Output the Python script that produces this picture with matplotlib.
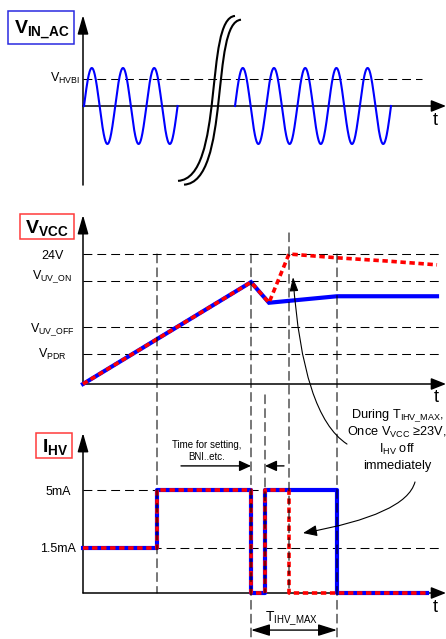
import numpy as np
import matplotlib
matplotlib.use('Agg')
import matplotlib.pyplot as plt
import matplotlib.transforms as mtransforms
from matplotlib.patches import Rectangle, ConnectionPatch, PathPatch, ArrowStyle
from matplotlib.path import Path

plt.rcParams['font.family'] = ['Liberation Sans', 'DejaVu Sans']
plt.rcParams['mathtext.fontset'] = 'custom'
plt.rcParams['mathtext.rm'] = 'Liberation Sans'
plt.rcParams['mathtext.it'] = 'Liberation Sans:italic'
plt.rcParams['mathtext.bf'] = 'Liberation Sans:bold'

# ---- data (time in arbitrary units, t = 0 on the vertical axis) ----
ac_period = 31.2
ac_amplitude = 1.0
ac_segments = [(1, 3), (152, 5)]          # (start time, cycles)
v_hvbi = 0.72

vcc_levels = [24, 19, 10.5, 5.5]
vcc_labels = ['24V', r'V$_{\mathrm{UV\_ON}}$', r'V$_{\mathrm{UV\_OFF}}$', r'V$_{\mathrm{PDR}}$']
vcc_t_blue = [0, 168, 186, 254, 354]
vcc_blue = [0, 18.8, 15.0, 16.2, 16.2]
vcc_t_red = [0, 168, 186, 206, 254, 304, 354]
vcc_red = [0, 18.8, 15.0, 24.0, 23.3, 22.7, 22.0]

ihv_levels = [5, 1.5]
ihv_labels = ['5mA', '1.5mA']
ihv_t_blue = [0, 74, 74, 168, 168, 182, 182, 254, 254, 344]
ihv_blue = [1.5, 1.5, 5, 5, 0, 0, 5, 5, 0, 0]
ihv_t_red = [0, 74, 74, 168, 168, 182, 182, 206, 206, 344]
ihv_red = [1.5, 1.5, 5, 5, 0, 0, 5, 5, 0, 0]

# event markers: time, top (in V), runs to bottom edge?
marker_t = [74, 168, 182, 206, 254]
marker_top = [24, 24, -2.0, 27.9, 24]
marker_to_edge = [False, True, False, False, True]


def ihv_pos(i):
    # current axis is not to scale
    return np.interp(i, [0, 1.5, 5], [0, 2.18, 5])


BLUE = '#0000ff'
RED = '#ff0000'
GRID = dict(color='k', lw=0.75, linestyle=(0, (8.5, 4.8)), zorder=1)
RED_DASH = dict(color=RED, lw=2.6, linestyle=(0, (1.5, 1.0)), zorder=4)

W, H = 446, 639
fig = plt.figure(figsize=(W / 100, H / 100), dpi=100)
px = mtransforms.Affine2D().scale(1 / W, -1 / H).translate(0, 1) + fig.transFigure


def band(top, bottom):
    return [0, 1 - bottom / H, 1, (bottom - top) / H]


T_MIN, T_MAX = -83, 363
ax1 = fig.add_axes(band(0, 200))
ax2 = fig.add_axes(band(200, 400))
ax3 = fig.add_axes(band(400, 639))
for ax in (ax1, ax2, ax3):
    ax.set_xlim(T_MIN, T_MAX)
    ax.axis('off')
s1 = 38
ax1.set_ylim((106 - 200) / s1, 106 / s1)
s2 = 130 / 24
ax2.set_ylim((384 - 400) / s2, (384 - 200) / s2)
s3 = 103 / 5
ax3.set_ylim((593 - 639) / s3, (593 - 400) / s3)


def arrow(ax, tip, tail, hl, hw, lw=1.0, style='-|>', conn=None, **kw):
    props = dict(arrowstyle=ArrowStyle(style, head_length=hl / 10, head_width=hw / 10),
                 mutation_scale=10, color='k', lw=lw, shrinkA=0, shrinkB=0)
    if conn:
        props['connectionstyle'] = conn
    ax.annotate('', xy=tip, xytext=tail, arrowprops=props, annotation_clip=False, **kw)


def draw_axes(ax, y_bottom, y_top):
    arrow(ax, (0, y_top), (0, y_bottom), 11.5, 3.3, lw=1.1)
    arrow(ax, (T_MAX, 0), (0, 0), 9, 3.6, lw=1.1)


def level_label(ax, x, y, s, drop_px, size=9):
    ax.annotate(s, xy=(x, y), xytext=(0, -drop_px * 0.72), textcoords='offset points',
                ha='center', va='baseline', fontsize=size, annotation_clip=False)


# ---- panel 1: V_IN_AC ----
draw_axes(ax1, -2.08, 2.39)
ax1.plot([0, 339], [v_hvbi, v_hvbi], **GRID)
level_label(ax1, -18, v_hvbi, r'V$_{\mathrm{HVBI}}$', 3)
for start, cycles in ac_segments:
    t = np.linspace(start, start + cycles * ac_period, 400)
    ax1.plot(t, ac_amplitude * np.sin(2 * np.pi * (t - start) / ac_period), color=BLUE, lw=1.5, zorder=3)
brk = [(95, -1.97), (142, -1.90), (121, 2.32), (152, 2.37)]
for dt, dy in [(0, 0), (6, -0.1)]:
    verts = [(t + dt, y + dy) for t, y in brk]
    ax1.add_patch(PathPatch(Path(verts, [Path.MOVETO, Path.CURVE4, Path.CURVE4, Path.CURVE4]),
                            fill=False, ec='k', lw=1.5, zorder=4))
ax1.text(352, -0.37, 't', fontsize=13, ha='center', va='center')

# ---- panel 2: V_VCC ----
draw_axes(ax2, 0, 31.2)
for lvl, lab, drop in zip(vcc_levels, vcc_labels, [5, -2, 5, 4]):
    ax2.plot([0, 357], [lvl, lvl], **GRID)
    level_label(ax2, -31, lvl, lab, drop)
ax2.plot(vcc_t_blue, vcc_blue, color=BLUE, lw=3.0, solid_joinstyle='miter', zorder=3)
ax2.plot(vcc_t_red, vcc_red, **RED_DASH)
ax2.text(353, -2.58, 't', fontsize=13, ha='center', va='center')

# ---- panel 3: I_HV ----
draw_axes(ax3, 0, 7.77)
ax3.plot([0, 254], [ihv_pos(5)] * 2, **GRID)
ax3.plot([0, 357], [ihv_pos(1.5)] * 2, **GRID)
for lvl, lab, drop in zip(ihv_levels, ihv_labels, [5, 4]):
    level_label(ax3, -25, ihv_pos(lvl), lab, drop)
ax3.plot(ihv_t_blue, ihv_pos(ihv_blue), color=BLUE, lw=3.0, zorder=3)
ax3.plot(ihv_t_red, ihv_pos(ihv_red), **RED_DASH)
ax3.text(352, -0.68, 't', fontsize=13, ha='center', va='center')

# event markers spanning panels 2 and 3
for t, top, edge in zip(marker_t, marker_top, marker_to_edge):
    bottom = ax3.get_ylim()[0] if edge else 0
    con = ConnectionPatch((t, top), (t, bottom), coordsA='data', coordsB='data',
                          axesA=ax2, axesB=ax3, **GRID)
    fig.add_artist(con)

# annotations
level_label(ax3, 124, (593 - 448) / s3, 'Time for setting,', 0, size=7)
level_label(ax3, 124, (593 - 460) / s3, 'BNI..etc.', 0, size=7)
arrow(ax3, (168, 6.17), (98, 6.17), 7, 3.2)
arrow(ax3, (182, 6.17), (201, 6.17), 7, 3.2)

during = ['During T$_{\\mathrm{IHV\\_MAX}}$,', 'Once V$_{\\mathrm{VCC}}$ \u226523V,',
          'I$_{\\mathrm{HV}}$ off', 'immediately']
for line, base in zip(during, [418, 436, 453, 469]):
    level_label(ax3, 314, (593 - base) / s3, line, 0, size=9.2)

arrow(ax2, (210, 19.75), (264, 7.23), 8.5, 2.6, lw=0.8, conn='angle3,angleA=147,angleB=94',
      textcoords=ax3.transData)
arrow(ax3, (220, 2.91), (332, 5.39), 8.5, 3.4, lw=0.8, conn='angle3,angleA=-105,angleB=10')

arrow(ax3, (254, -1.80), (168, -1.80), 11.5, 3.6, lw=1.0, style='<|-|>')
level_label(ax3, 209, (593 - 622) / s3, 'T$_{\\mathrm{IHV\\_MAX}}$', 0, size=10)

# panel title boxes
for (x, y, w, h), ec, s, cx, base in [
        ((8, 11, 66, 33), '#2a2ae0', r'$\mathbf{V}_{\mathbf{IN\_AC}}$', 42, 35),
        ((20, 214, 54, 25), '#ff3b3b', r'$\mathbf{V}_{\mathbf{VCC}}$', 47, 233),
        ((36, 433, 36, 25), '#ff3b3b', r'$\mathbf{I}_{\mathbf{HV}}$', 55, 452)]:
    fig.add_artist(Rectangle((x, y), w, h, transform=px, fill=False, ec=ec, lw=1.1))
    fig.text(cx, base, s, transform=px, ha='center', va='baseline', fontsize=14)

fig.savefig('out.png', dpi=100)
